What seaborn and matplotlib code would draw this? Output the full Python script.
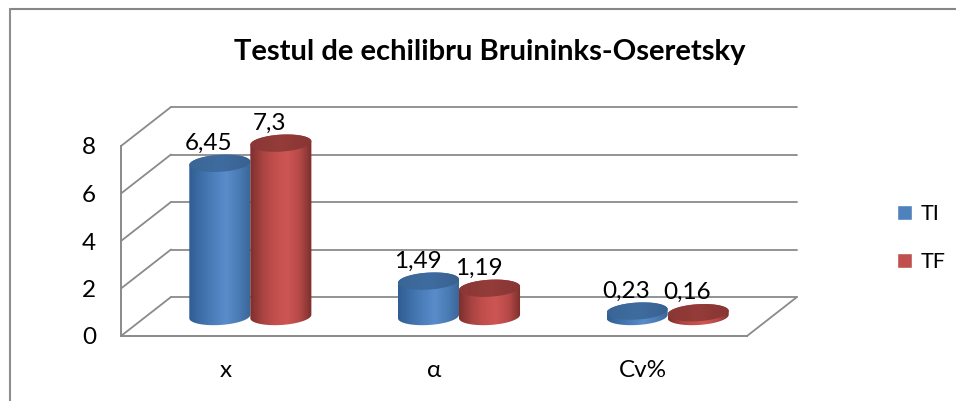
import numpy as np
import pandas as pd
import matplotlib
matplotlib.use("Agg")
import matplotlib.pyplot as plt
import seaborn as sns
from matplotlib.colors import LinearSegmentedColormap
from matplotlib.lines import Line2D
from matplotlib.patches import Patch
from matplotlib.path import Path
from matplotlib.transforms import ScaledTranslation, IdentityTransform

# ---- data ----
categories = ["x", "α", "Cv%"]
series_names = ["TI", "TF"]
ti_values = [6.45, 1.49, 0.23]
tf_values = [7.3, 1.19, 0.16]
ti_labels = ["6,45", "1,49", "0,23"]
tf_labels = ["7,3", "1,19", "0,16"]
y_ticks = [0, 2, 4, 6, 8]
title_text = "Testul de echilibru Bruininks-Oseretsky"

# ---- style ----
W, H, DPI = 956, 401, 100
BLUE, RED = "#4f81bd", "#c0504d"
GRAY = "#8a8a8a"
FONT = ["Lato", "Open Sans", "DejaVu Sans"]
sns.set_theme(style="white")
plt.rcParams["font.family"] = FONT
plt.rcParams["text.color"] = "black"

df = pd.DataFrame({
    "cat": categories * 2,
    "series": [series_names[0]] * 3 + [series_names[1]] * 3,
    "val": ti_values + tf_values,
})

fig = plt.figure(figsize=(W / DPI, H / DPI), dpi=DPI, facecolor="white")
ax = fig.add_axes([121 / W, 1 - 336 / H, (747 - 121) / W, (336 - 146) / H])
ax.patch.set_alpha(0)

sns.barplot(data=df, x="cat", y="val", hue="series", hue_order=series_names,
            palette=[BLUE, RED], saturation=1, width=0.585, gap=0, legend=False,
            errorbar=None, ax=ax)
XL, YL = (-0.5, 2.5), (0, 8)
ax.set_xlim(*XL)
ax.set_ylim(*YL)
ax.set_yticks(y_ticks)
ax.set_xlabel("")
ax.set_ylabel("")
ax.tick_params(axis="both", length=0, labelsize=17.5, labelcolor="black")
ax.tick_params(axis="y", pad=18)
ax.tick_params(axis="x", pad=17)

# front walls are the axes spines
for side in ("top", "right"):
    ax.spines[side].set_visible(False)
for side in ("left", "bottom"):
    ax.spines[side].set_color(GRAY)
    ax.spines[side].set_linewidth(1.4)

# ---- depth: back wall and bars sit behind the front plane ----
BACK_DX, BACK_DY = 50, 39
back = ax.transData + ScaledTranslation(BACK_DX / DPI, BACK_DY / DPI, fig.dpi_scale_trans)
mid = ax.transData + ScaledTranslation(BACK_DX / 2 / DPI, BACK_DY / 2 / DPI, fig.dpi_scale_trans)

fig.canvas.draw()
for v in y_ticks:
    ax.plot(XL, [v, v], color=GRAY, lw=1.3, transform=back, clip_on=False, zorder=1)
    px, py = ax.transData.transform((XL[0], v))
    ax.add_line(Line2D([px, px + BACK_DX], [py, py + BACK_DY], color=GRAY, lw=1.3,
                       transform=IdentityTransform(), clip_on=False, zorder=1))
px, py = ax.transData.transform((XL[1], 0))
ax.add_line(Line2D([px, px + BACK_DX], [py, py + BACK_DY], color=GRAY, lw=1.3,
                   transform=IdentityTransform(), clip_on=False, zorder=1))

# ---- cylinders, built on the bars seaborn placed ----
unit_px = ax.transData.transform((0, 1))[1] - ax.transData.transform((0, 0))[1]
SEMI = 8.5 / unit_px
TILT = 3.5 / unit_px

body_cmaps = [
    LinearSegmentedColormap.from_list("b", ["#2f5d92", "#3f6fa8", "#4c7fbb", "#5a8ccb", "#4a7cb6", "#3a6596"]),
    LinearSegmentedColormap.from_list("r", ["#7c2f2d", "#a84442", "#c24f4d", "#cd5654", "#b64a48", "#7a2e2c"]),
]
cap_cmaps = [
    LinearSegmentedColormap.from_list("bc", ["#3a6596", "#3f6c9f", "#38618f"]),
    LinearSegmentedColormap.from_list("rc", ["#8a3735", "#943c3a", "#873533"]),
]
gradient = np.linspace(0, 1, 256).reshape(1, -1)
tt = np.linspace(0, 2 * np.pi, 121)


def disc(cx, cy, a):
    xs = cx + a * np.cos(tt)
    ys = cy + SEMI * np.sin(tt) + TILT * (xs - cx) / (2 * a)
    return xs, ys


for s, (cont, labels) in enumerate(zip(ax.containers, [ti_labels, tf_labels])):
    for rect, lab in zip(cont.patches, labels):
        x0, w, h = rect.get_x(), rect.get_width(), rect.get_height()
        rect.set_alpha(0)
        cx, a = x0 + w / 2, w / 2
        bx, by = disc(cx, 0, a)
        tx, ty = disc(cx, h, a)
        low = tt >= np.pi
        upp = tt <= np.pi
        body_x = np.r_[bx[low], tx[upp]]
        body_y = np.r_[by[low], ty[upp]]
        body_path = Path(np.c_[body_x, body_y])
        im = ax.imshow(gradient, cmap=body_cmaps[s], extent=[x0, x0 + w, -1, h + 1],
                       aspect="auto", origin="lower", transform=mid,
                       zorder=3 + s, interpolation="bilinear")
        im.set_clip_box(fig.bbox)
        im.set_clip_path(body_path, mid)
        cap_path = Path(np.c_[tx, ty])
        cap = ax.imshow(gradient, cmap=cap_cmaps[s], extent=[x0, x0 + w, h - 1, h + 1],
                        aspect="auto", origin="lower", transform=mid,
                        zorder=3.5 + s, interpolation="bilinear")
        cap.set_clip_box(fig.bbox)
        cap.set_clip_path(cap_path, mid)
        ax.annotate(lab, xy=(cx, h), xycoords=mid, xytext=(-11, 20),
                    textcoords="offset pixels", ha="center", va="center",
                    fontsize=17.5, color="black", zorder=8, annotation_clip=False)

ax.set_xlim(*XL)
ax.set_ylim(*YL)

# ---- title, legend, outer frame ----
fig.text(490 / W, 1 - 52 / H, title_text, ha="center", va="center",
         fontsize=21, fontweight="bold", color="black")

handles = [Patch(facecolor=BLUE, label=series_names[0]), Patch(facecolor=RED, label=series_names[1])]
fig.legend(handles=handles, loc="center left", bbox_to_anchor=(897 / W, 1 - 238 / H),
           frameon=False, fontsize=15.5, handlelength=0.7, handleheight=0.7,
           handletextpad=0.4, labelspacing=1.3, borderaxespad=0, borderpad=0)

fig.add_artist(Line2D([10 / W, 1], [1 - 9 / H, 1 - 9 / H], color="#868686", lw=1.5,
                      transform=fig.transFigure))
fig.add_artist(Line2D([10 / W, 10 / W], [0, 1 - 9 / H], color="#8e8e8e", lw=1.5,
                      transform=fig.transFigure))

fig.savefig("out.png", dpi=DPI, facecolor="white")
